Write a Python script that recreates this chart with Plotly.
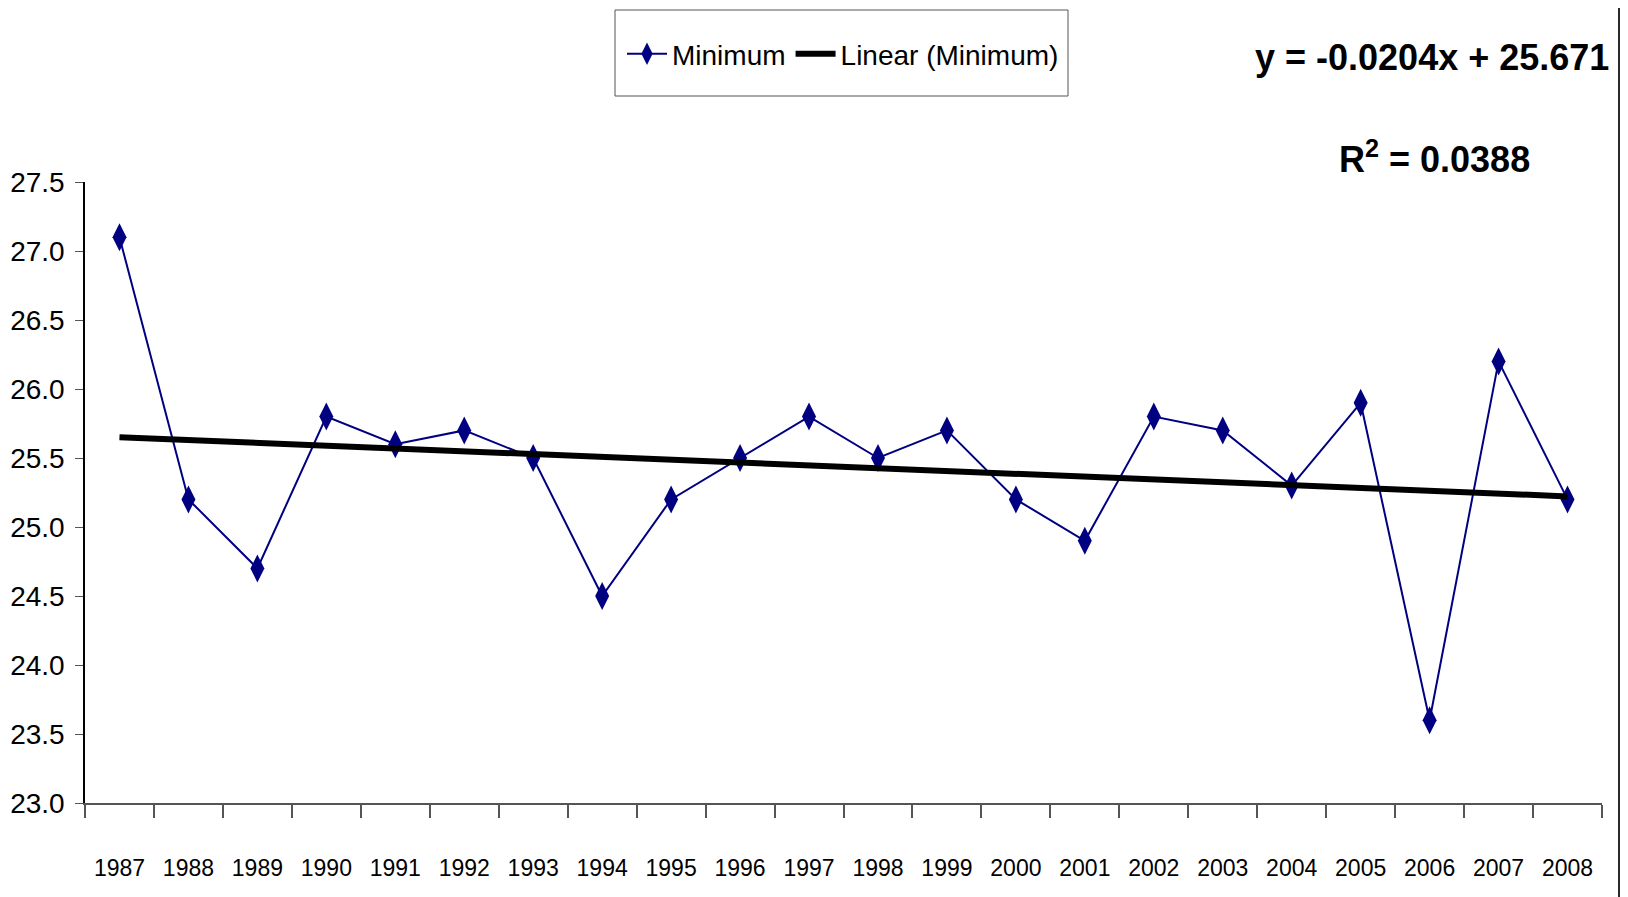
import numpy as np
import plotly.graph_objects as go

years = [str(y) for y in range(1987, 2009)]
minimum = [27.1, 25.2, 24.7, 25.8, 25.6, 25.7, 25.5, 24.5, 25.2, 25.5, 25.8,
           25.5, 25.7, 25.2, 24.9, 25.8, 25.7, 25.3, 25.9, 23.6, 26.2, 25.2]
y_ticks = [23.0, 23.5, 24.0, 24.5, 25.0, 25.5, 26.0, 26.5, 27.0, 27.5]
eq_text = "y = -0.0204x + 25.671"
r2_text = "R<sup>2</sup> = 0.0388"

idx = np.arange(1, len(minimum) + 1)
slope, intercept = np.polyfit(idx, minimum, 1)
trend = slope * idx + intercept

FONT = "Liberation Sans Narrow, Arial Narrow, Liberation Sans, Arial, sans-serif"

fig = go.Figure()
fig.add_trace(go.Scatter(
    x=years, y=minimum, name="Minimum", mode="lines+markers",
    line=dict(color="#000080", width=2),
    marker=dict(symbol="diamond-tall", size=20, color="#000080"),
))
fig.add_trace(go.Scatter(
    x=years, y=trend, name="Linear (Minimum)", mode="lines",
    line=dict(color="#000000", width=6),
))

# page body has an 8px margin; figure coords = screen coords - 8
W, H = 1620, 889
L, R, T, B = 77, 26, 174, 94
pw, ph = W - L - R, H - T - B


def px(xs):
    return (xs - L) / pw


def py(ys):
    return 1 + (T - ys) / ph


fig.update_layout(
    width=W, height=H,
    margin=dict(l=L, r=R, t=T, b=B, autoexpand=False),
    paper_bgcolor="white", plot_bgcolor="white",
    font=dict(family=FONT, color="black"),
    showlegend=True,
    legend=dict(
        orientation="h", x=px(614), y=py(46),
        xanchor="left", yanchor="middle",
        borderwidth=0, bgcolor="rgba(0,0,0,0)",
        font=dict(size=28, family=FONT),
        itemwidth=40, tracegroupgap=0,
    ),
    xaxis=dict(
        type="category", range=[-0.5, 21.5],
        showline=True, linecolor="#555555", linewidth=1.5,
        ticks="outside", ticklen=13, tickcolor="#555555", tickwidth=1.5,
        tickson="boundaries", showgrid=False,
        tickfont=dict(size=23, family=FONT),
        tickangle=0,
        ticklabelstandoff=44,
        automargin=False,
    ),
    yaxis=dict(
        range=[23.0, 27.5], tickvals=y_ticks,
        ticktext=[f"{v:.1f}" for v in y_ticks],
        showline=True, linecolor="#000000", linewidth=1.5,
        ticks="outside", ticklen=8, tickcolor="#555555",
        showgrid=False, zeroline=False,
        tickfont=dict(size=28, family=FONT),
        ticklabelstandoff=5,
        automargin=False,
    ),
)

# legend frame
fig.add_shape(type="rect", xref="paper", yref="paper",
              x0=px(607), x1=px(1060), y0=py(88), y1=py(2),
              line=dict(color="#555555", width=1), fillcolor="rgba(0,0,0,0)",
              layer="below")

fig.add_annotation(
    xref="paper", yref="paper",
    x=px(1424), y=py(49),
    text=f"<b>{eq_text}</b>", showarrow=False,
    xanchor="center", yanchor="middle",
    font=dict(size=36, family=FONT, color="black"),
)
fig.add_annotation(
    xref="paper", yref="paper",
    x=px(1426), y=py(149),
    text=f"<b>{r2_text}</b>", showarrow=False,
    xanchor="center", yanchor="middle",
    font=dict(size=36, family=FONT, color="black"),
)

# right-edge window strip
fig.add_shape(type="rect", xref="paper", yref="paper",
              x0=px(1611), x1=px(1630),
              y0=py(H + 20), y1=py(-20),
              fillcolor="#707262", line=dict(color="#2a2a2a", width=2),
              layer="above")

fig.write_html("out.html")
